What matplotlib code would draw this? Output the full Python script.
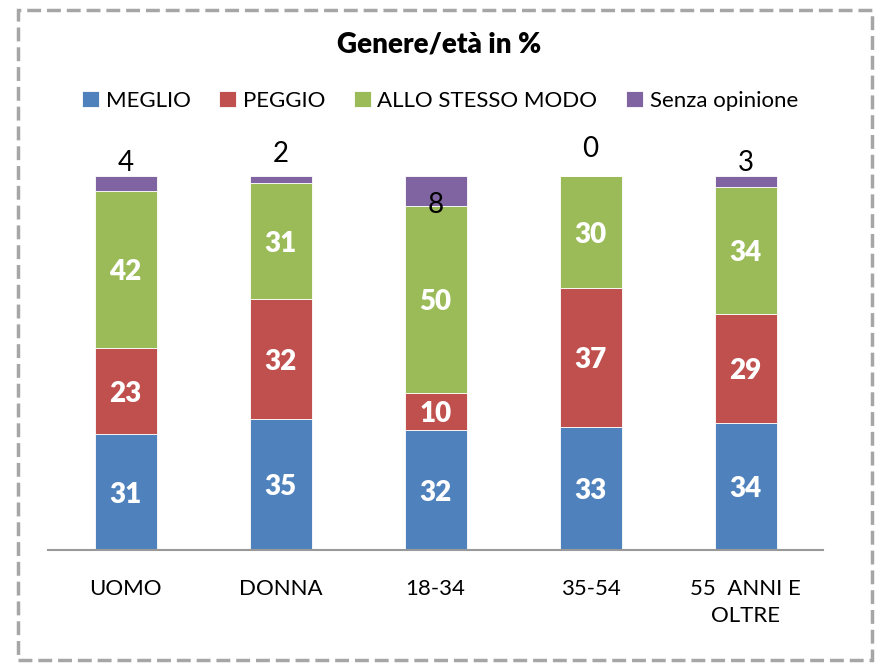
import matplotlib
matplotlib.use("Agg")
import matplotlib.pyplot as plt
from matplotlib.patches import Rectangle
import numpy as np

plt.rcParams['font.family'] = ['Lato', 'DejaVu Sans']

categories = ["UOMO", "DONNA", "18-34", "35-54", "55  ANNI E\nOLTRE"]
series_names = ["MEGLIO", "PEGGIO", "ALLO STESSO MODO", "Senza opinione"]
meglio = [31, 35, 32, 33, 34]
peggio = [23, 32, 10, 37, 29]
stesso = [42, 31, 50, 30, 34]
senza = [4, 2, 8, 0, 3]

colors = ["#4F81BD", "#C0504D", "#9BBB59", "#8064A2"]

fig = plt.figure(figsize=(8.78, 6.64), dpi=100)
W, H = 878, 664
ax = fig.add_axes([48 / W, 1 - 550 / H, (823 - 48) / W, (550 - 176) / H])

x = np.arange(len(categories))
data = [meglio, peggio, stesso, senza]
bottom = np.zeros(len(categories))
bars = []
for vals, col, name in zip(data, colors, series_names):
    b = ax.bar(x, vals, width=0.4, bottom=bottom, color=col, edgecolor="white",
               linewidth=0.6, label=name)
    bars.append(b)
    mids = bottom + np.array(vals) / 2
    if name != "Senza opinione":
        for xi, m, v in zip(x, mids, vals):
            ax.text(xi, m, str(v), ha="center", va="center_baseline", color="white",
                    fontsize=20, fontweight="heavy")
    else:
        # label offsets (style): above bar except where segment is large
        offs = [3.6, 5.8, -7.8, 7.2, 3.6]
        for xi, v, o in zip(x, vals, offs):
            ax.text(xi, 100 + o, str(v), ha="center", va="center", color="black",
                    fontsize=20, clip_on=False)
    bottom = bottom + np.array(vals)

ax.set_xlim(-0.5, len(categories) - 0.5)
ax.set_ylim(0, 100)
for s in ["top", "right", "left"]:
    ax.spines[s].set_visible(False)
ax.spines["bottom"].set_color("#999999")
ax.spines["bottom"].set_linewidth(1.5)
ax.set_yticks([])
ax.set_xticks(x)
ax.set_xticklabels(categories, fontsize=16, linespacing=1.45)
ax.tick_params(axis="x", length=0, pad=21)

fig.text(0.5, 1 - 45 / H, "Genere/età in %", ha="center", va="center",
         fontsize=20, fontweight="heavy")

leg = fig.legend(handles=bars, labels=series_names, loc="center",
                 bbox_to_anchor=(440 / W, 1 - 101 / H), ncol=4, frameon=False,
                 fontsize=16, handlelength=0.75, handleheight=0.75,
                 handletextpad=0.3, columnspacing=1.3)

border = Rectangle((18 / W, 1 - 660 / H), (872 - 18) / W, (660 - 10) / H,
                   transform=fig.transFigure, fill=False, edgecolor="#A6A6A6",
                   linewidth=2.5, linestyle=(0, (4, 1.7)))
fig.patches.append(border)

fig.savefig("out.png", dpi=100)
